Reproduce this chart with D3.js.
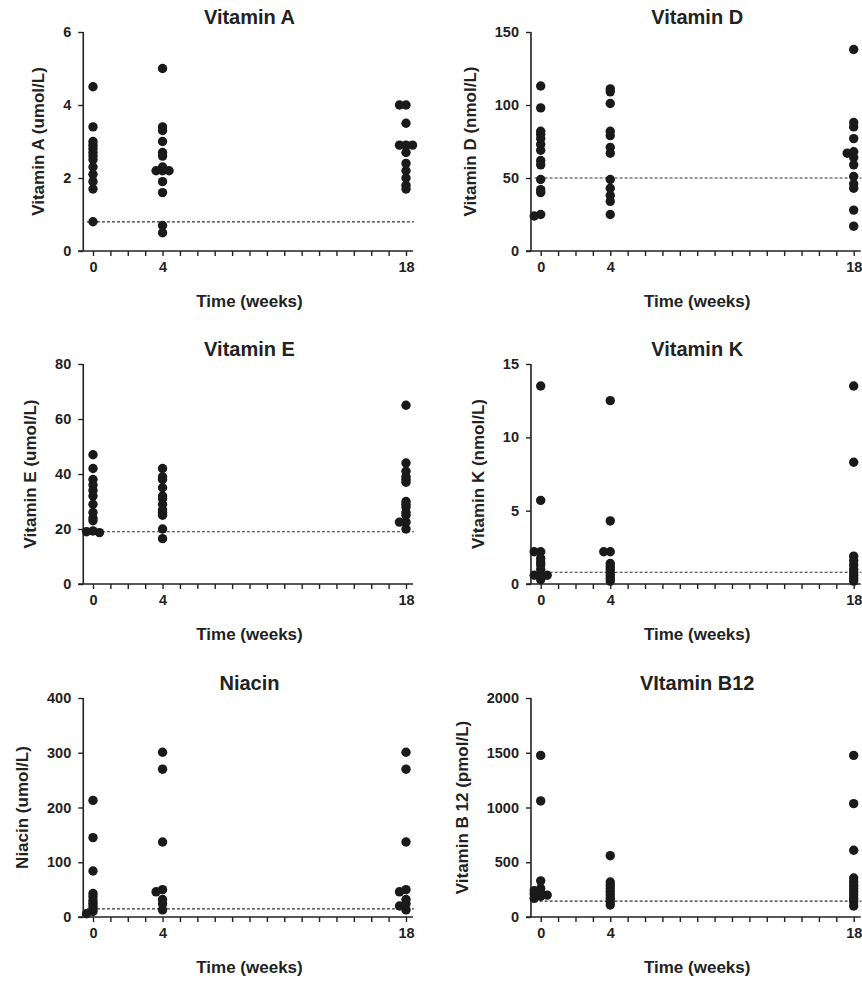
<!DOCTYPE html>
<html>
<head>
<meta charset="utf-8">
<script src="https://cdn.jsdelivr.net/npm/d3@7"></script>
<style>
  html, body { margin: 0; padding: 0; background: #fff; overflow: hidden; }
  svg { display: block; font-family: "Liberation Sans", Arial, sans-serif; font-weight: bold; }
</style>
</head>
<body>
<svg id="chart" width="862" height="981"></svg>
<script>
// ---- data ----
const weeks = [0, 4, 18];
const weekLabels = ["0", "4", "18"];

const vitA_w0 = [4.5, 3.4, 3.0, 2.9, 2.8, 2.7, 2.6, 2.5, 2.3, 2.1, 1.9, 1.7, 0.8];
const vitA_w4 = [5.0, 3.4, 3.3, 3.0, 2.7, 2.6, 2.3, 2.2, 2.2, 2.2, 1.9, 1.6, 0.7, 0.5];
const vitA_w18 = [4.0, 4.0, 3.5, 2.9, 2.9, 2.9, 2.7, 2.4, 2.2, 2.0, 1.8, 1.7];

const vitD_w0 = [113, 98, 82, 80, 77, 73, 69, 62, 59, 49, 42, 40, 25, 24];
const vitD_w4 = [111, 109, 101, 82, 79, 71, 67, 49, 43, 38, 34, 25];
const vitD_w18 = [138, 88, 85, 77, 68, 67, 64, 59, 51, 46, 43, 28, 17];

const vitE_w0 = [47, 42, 38, 36, 34, 32, 29, 26, 24, 23, 19.3, 19, 18.7];
const vitE_w4 = [42, 39, 38, 35, 32, 31, 29, 27, 26, 25, 20, 16.5];
const vitE_w18 = [65, 44, 41, 39, 38, 37, 30, 29, 28, 26, 25, 22.5, 22.5, 20];

const vitK_w0 = [13.5, 5.7, 2.2, 2.2, 1.75, 1.5, 1.3, 1.0, 0.6, 0.6, 0.6, 0.3];
const vitK_w4 = [12.5, 4.3, 2.2, 2.2, 1.4, 1.2, 1.0, 0.8, 0.6, 0.4, 0.2];
const vitK_w18 = [13.5, 8.3, 1.9, 1.6, 1.3, 1.0, 0.8, 0.6, 0.4, 0.2];

const niacin_w0 = [213, 145, 84, 43, 37, 30, 25, 20, 15, 10, 6];
const niacin_w4 = [301, 270, 137, 50, 46, 32, 24, 13];
const niacin_w18 = [301, 270, 137, 50, 46, 32, 24, 20, 13];

const b12_w0 = [1476, 1060, 330, 260, 240, 220, 210, 200, 190, 170];
const b12_w4 = [560, 320, 290, 260, 230, 200, 170, 140, 110];
const b12_w18 = [1476, 1035, 610, 356, 320, 290, 260, 230, 200, 170, 140, 100];

const titles = ["Vitamin A", "Vitamin D", "Vitamin E", "Vitamin K", "Niacin", "VItamin B12"];
const yTitles = ["Vitamin A (umol/L)", "Vitamin  D (nmol/L)", "Vitamin  E (umol/L)", "Vitamin  K (nmol/L)", "Niacin (umol/L)", "Vitamin B 12 (pmol/L)"];
const yMax = [6, 150, 80, 15, 400, 2000];
const yTicks = [[0, 2, 4, 6], [0, 50, 100, 150], [0, 20, 40, 60, 80], [0, 5, 10, 15], [0, 100, 200, 300, 400], [0, 500, 1000, 1500, 2000]];
const cutoffs = [0.8, 50, 19, 0.8, 15, 145];
const seriesByPanel = [
  [vitA_w0, vitA_w4, vitA_w18],
  [vitD_w0, vitD_w4, vitD_w18],
  [vitE_w0, vitE_w4, vitE_w18],
  [vitK_w0, vitK_w4, vitK_w18],
  [niacin_w0, niacin_w4, niacin_w18],
  [b12_w0, b12_w4, b12_w18]
];

// ---- layout ----
const colX0 = [93, 540.7];
const rowTop = [32, 364, 698];
const rowBottom = [251, 584, 917];
const weekPx = 313;
const ink = "#222";
const R = 4.7;

const svg = d3.select("#chart");

function beeswarm(values, yScale) {
  const sorted = values.slice().sort((a, b) => b - a);
  const placed = [];
  const step = 6.5, minDist = 2.6;
  const offs = [0, -1, 1, -2, 2, -3, 3];
  sorted.forEach(v => {
    const py = yScale(v);
    for (const o of offs) {
      const dx = o * step;
      const ok = placed.every(p => Math.hypot(p.dx - dx, p.py - py) >= minDist);
      if (ok) { placed.push({ v, py, dx }); return; }
    }
    placed.push({ v, py, dx: 0 });
  });
  return placed;
}

seriesByPanel.forEach((series, i) => {
  const col = i % 2, row = Math.floor(i / 2);
  const x = d3.scaleLinear().domain([0, 18]).range([colX0[col], colX0[col] + weekPx]);
  const y = d3.scaleLinear().domain([0, yMax[i]]).range([rowBottom[row], rowTop[row]]);
  const g = svg.append("g");
  const axisX = x(-0.56);

  // y axis
  const yAxis = d3.axisLeft(y).tickValues(yTicks[i]).tickSize(5).tickPadding(7).tickFormat(d3.format("d"));
  const gy = g.append("g").attr("transform", `translate(${axisX},0)`).call(yAxis);
  gy.select(".domain").attr("d", `M0,${rowTop[row]}V${rowBottom[row]}`).attr("stroke", ink).attr("stroke-width", 1.6);
  gy.selectAll(".tick line").attr("stroke", ink).attr("stroke-width", 1.4);
  gy.selectAll(".tick text").attr("fill", ink).style("font-size", "14.5px").style("font-weight", "bold")
    .style("font-family", '"Liberation Sans", Arial, sans-serif');

  // x axis
  const xAxis = d3.axisBottom(x).tickValues(d3.range(0, 19)).tickSize(5).tickPadding(6)
    .tickFormat(d => weeks.includes(d) ? weekLabels[weeks.indexOf(d)] : "");
  const gx = g.append("g").attr("transform", `translate(0,${rowBottom[row]})`).call(xAxis);
  gx.select(".domain").attr("d", `M${axisX - 5},0H${x(18.4)}`).attr("stroke", ink).attr("stroke-width", 1.6);
  gx.selectAll(".tick line").attr("stroke", ink).attr("stroke-width", 1.4);
  gx.selectAll(".tick text").attr("fill", ink).style("font-size", "14.5px").style("font-weight", "bold")
    .style("font-family", '"Liberation Sans", Arial, sans-serif');

  // cutoff dashed line
  g.append("line")
    .attr("x1", x(-0.35)).attr("x2", x(18.45))
    .attr("y1", y(cutoffs[i])).attr("y2", y(cutoffs[i]))
    .attr("stroke", "#333").attr("stroke-width", 1.2).attr("stroke-dasharray", "3,2");

  // dots
  series.forEach((vals, k) => {
    const pts = beeswarm(vals, y);
    g.append("g").selectAll("circle").data(pts).join("circle")
      .attr("cx", d => x(weeks[k]) + d.dx)
      .attr("cy", d => d.py)
      .attr("r", R)
      .attr("fill", "#1a1a1a");
  });

  // title
  const cx = x(9);
  g.append("text").attr("x", cx).attr("y", rowTop[row] - 8)
    .attr("text-anchor", "middle").attr("fill", ink).style("font-size", "20px").text(titles[i]);

  // x title
  g.append("text").attr("x", cx).attr("y", rowBottom[row] + 56)
    .attr("text-anchor", "middle").attr("fill", ink).style("font-size", "17px").text("Time (weeks)");

  // y title positioned relative to tick labels
  let minLeft = Infinity;
  gy.selectAll(".tick text").each(function () {
    const b = this.getBBox();
    minLeft = Math.min(minLeft, axisX + b.x);
  });
  const ty = (rowTop[row] + rowBottom[row]) / 2;
  const tx = minLeft - 25;
  g.append("text").attr("transform", `translate(${tx},${ty}) rotate(-90)`)
    .attr("text-anchor", "middle").attr("dy", "0.35em").attr("fill", ink)
    .style("font-size", "17px").text(yTitles[i]);
});
</script>
</body>
</html>
